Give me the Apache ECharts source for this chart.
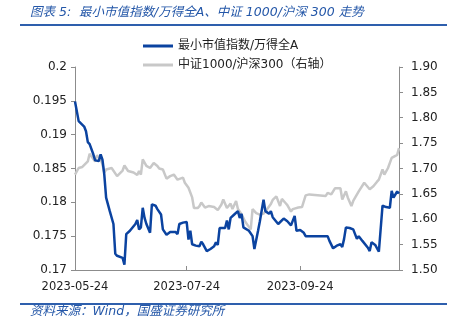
<!DOCTYPE html>
<html>
<head>
<meta charset="utf-8">
<script src="https://cdn.jsdelivr.net/npm/echarts@6/dist/echarts.min.js"></script>
<style>html,body{margin:0;padding:0;background:#fff}#c{width:456px;height:329px}</style>
</head>
<body>
<div id="c"></div>
<script>
var titleText = '图表 5:  最小市值指数/万得全A、中证 1000/沪深 300 走势';
var sourceText = '资料来源：Wind，国盛证券研究所';
var seriesNames = ['最小市值指数/万得全A', '中证1000/沪深300（右轴）'];
var xTickLabels = ['2023-05-24', '2023-07-24', '2023-09-24'];
var xRange = ['2023-05-24', '2023-11-17'];
var leftRange = [0.17, 0.2, 0.005];
var rightRange = [1.5, 1.9, 0.05];

var blueDates = ['2023-05-24','2023-05-26','2023-05-29','2023-05-30','2023-05-31','2023-06-01','2023-06-03','2023-06-04','2023-06-06','2023-06-07','2023-06-08','2023-06-09','2023-06-10','2023-06-12','2023-06-14','2023-06-15','2023-06-16','2023-06-19','2023-06-20','2023-06-21','2023-06-23','2023-06-26','2023-06-27','2023-06-28','2023-06-29','2023-06-30','2023-07-01','2023-07-02','2023-07-04','2023-07-05','2023-07-07','2023-07-08','2023-07-10','2023-07-11','2023-07-13','2023-07-15','2023-07-18','2023-07-19','2023-07-20','2023-07-22','2023-07-24','2023-07-25','2023-07-26','2023-07-27','2023-07-29','2023-07-31','2023-08-01','2023-08-02','2023-08-04','2023-08-06','2023-08-08','2023-08-09','2023-08-10','2023-08-11','2023-08-14','2023-08-15','2023-08-16','2023-08-17','2023-08-19','2023-08-21','2023-08-22','2023-08-23','2023-08-24','2023-08-27','2023-08-29','2023-08-30','2023-09-01','2023-09-02','2023-09-04','2023-09-05','2023-09-07','2023-09-08','2023-09-09','2023-09-12','2023-09-15','2023-09-17','2023-09-19','2023-09-21','2023-09-22','2023-09-24','2023-09-26','2023-09-27','2023-10-09','2023-10-10','2023-10-12','2023-10-14','2023-10-16','2023-10-17','2023-10-18','2023-10-19','2023-10-21','2023-10-23','2023-10-25','2023-10-26','2023-10-28','2023-10-31','2023-11-01','2023-11-02','2023-11-04','2023-11-06','2023-11-07','2023-11-08','2023-11-10','2023-11-12','2023-11-13','2023-11-14','2023-11-16','2023-11-17'];
var blueValues = [0.1949,0.1920,0.1912,0.1905,0.1889,0.1886,0.1871,0.1862,0.1861,0.1871,0.1863,0.1841,0.1807,0.1787,0.1768,0.1724,0.1721,0.1718,0.1708,0.1753,0.1758,0.1768,0.1774,0.1760,0.1763,0.1792,0.1777,0.1768,0.1755,0.1797,0.1795,0.1790,0.1782,0.1760,0.1752,0.1756,0.1756,0.1753,0.1768,0.1770,0.1771,0.1745,0.1758,0.1738,0.1736,0.1735,0.1742,0.1738,0.1728,0.1731,0.1735,0.1741,0.1737,0.1762,0.1762,0.1773,0.1760,0.1777,0.1782,0.1787,0.1777,0.1783,0.1763,0.1758,0.1750,0.1731,0.1758,0.1772,0.1804,0.1787,0.1783,0.1787,0.1778,0.1768,0.1776,0.1772,0.1766,0.1780,0.1758,0.1759,0.1755,0.1750,0.1750,0.1743,0.1732,0.1736,0.1738,0.1734,0.1746,0.1763,0.1762,0.1760,0.1746,0.1750,0.1743,0.1733,0.1728,0.1741,0.1737,0.1727,0.1728,0.1795,0.1793,0.1792,0.1817,0.1807,0.1816,0.1813];

var grayDates = ['2023-05-24','2023-05-26','2023-05-28','2023-05-29','2023-05-31','2023-06-01','2023-06-02','2023-06-04','2023-06-05','2023-06-07','2023-06-08','2023-06-09','2023-06-10','2023-06-13','2023-06-14','2023-06-16','2023-06-17','2023-06-19','2023-06-20','2023-06-22','2023-06-25','2023-06-27','2023-06-28','2023-06-29','2023-06-30','2023-07-02','2023-07-04','2023-07-06','2023-07-08','2023-07-09','2023-07-11','2023-07-13','2023-07-15','2023-07-17','2023-07-19','2023-07-20','2023-07-22','2023-07-23','2023-07-25','2023-07-27','2023-07-28','2023-07-30','2023-07-31','2023-08-01','2023-08-03','2023-08-05','2023-08-08','2023-08-10','2023-08-12','2023-08-13','2023-08-15','2023-08-17','2023-08-18','2023-08-20','2023-08-21','2023-08-23','2023-08-25','2023-08-27','2023-08-28','2023-08-29','2023-08-30','2023-08-31','2023-09-02','2023-09-04','2023-09-06','2023-09-08','2023-09-09','2023-09-11','2023-09-13','2023-09-14','2023-09-16','2023-09-17','2023-09-19','2023-09-20','2023-09-23','2023-09-25','2023-09-27','2023-09-29','2023-10-08','2023-10-09','2023-10-11','2023-10-13','2023-10-16','2023-10-17','2023-10-19','2023-10-20','2023-10-22','2023-10-23','2023-10-26','2023-10-29','2023-10-30','2023-11-01','2023-11-03','2023-11-05','2023-11-06','2023-11-08','2023-11-09','2023-11-11','2023-11-13','2023-11-14','2023-11-16','2023-11-17'];
var grayValues = [1.688,1.701,1.703,1.706,1.714,1.729,1.727,1.714,1.726,1.718,1.708,1.692,1.698,1.701,1.704,1.685,1.685,1.696,1.706,1.695,1.692,1.687,1.695,1.688,1.718,1.705,1.701,1.711,1.705,1.700,1.698,1.680,1.685,1.688,1.678,1.675,1.682,1.672,1.662,1.643,1.622,1.622,1.626,1.633,1.623,1.626,1.624,1.618,1.629,1.639,1.622,1.631,1.620,1.636,1.620,1.610,1.595,1.585,1.580,1.620,1.622,1.612,1.609,1.611,1.620,1.630,1.638,1.645,1.626,1.640,1.632,1.628,1.615,1.620,1.623,1.624,1.647,1.649,1.646,1.652,1.649,1.661,1.661,1.639,1.655,1.643,1.626,1.636,1.655,1.672,1.669,1.659,1.665,1.674,1.678,1.698,1.688,1.701,1.721,1.718,1.727,1.740];

function ts(s) { var p = s.split('-'); return new Date(+p[0], +p[1] - 1, +p[2]).getTime(); }
function pad(n) { return (n < 10 ? '0' : '') + n; }
function fmtDate(v) { var d = new Date(v); return d.getFullYear() + '-' + pad(d.getMonth() + 1) + '-' + pad(d.getDate()); }
function zip(a, b) { return a.map(function (d, i) { return [ts(d), b[i]]; }); }

var BLUE_TXT = '#2457A8';
var BLUE_LINE = '#0B43A0';
var GRAY_LINE = '#C8C8C8';
var latin = '"DejaVu Sans", "Noto Sans CJK SC", sans-serif';
var chart = echarts.init(document.getElementById('c'), null, { renderer: 'canvas' });
var tickTs = xTickLabels.map(ts);

chart.setOption({
  animation: false,
  backgroundColor: '#ffffff',
  title: {
    text: titleText, left: 30, top: 6, padding: 0,
    textStyle: { fontSize: 12.5, fontStyle: 'italic', fontWeight: 'normal', color: BLUE_TXT, fontFamily: latin }
  },
  graphic: [
    { type: 'line', shape: { x1: 20, y1: 25, x2: 447, y2: 25 }, style: { stroke: '#2E5FAD', lineWidth: 2 } },
    { type: 'line', shape: { x1: 20, y1: 304, x2: 447, y2: 304 }, style: { stroke: '#2E5FAD', lineWidth: 2 } },
    { type: 'text', left: 30, top: 305, style: { text: sourceText, fill: BLUE_TXT, font: 'italic 12.5px ' + latin } }
  ],
  legend: {
    data: [
      { name: seriesNames[0], icon: 'rect', itemStyle: { color: BLUE_LINE } },
      { name: seriesNames[1], icon: 'rect', itemStyle: { color: GRAY_LINE } }
    ],
    orient: 'vertical', left: 138, top: 34, itemWidth: 30, itemHeight: 3, itemGap: 5,
    textStyle: { fontSize: 12, color: '#222', fontFamily: latin, lineHeight: 14 }
  },
  grid: { left: 75, right: 57, top: 67, bottom: 59, containLabel: false },
  xAxis: {
    type: 'value', min: ts(xRange[0]), max: ts(xRange[1]),
    axisLine: { lineStyle: { color: '#8c8c8c', width: 1 } },
    axisTick: { show: true, inside: true, length: 4, customValues: tickTs, lineStyle: { color: '#8c8c8c' } },
    axisLabel: { customValues: tickTs, formatter: function (v) { return fmtDate(v); }, fontSize: 11.5, color: '#222', fontFamily: latin, margin: 11, showMinLabel: true, showMaxLabel: true },
    splitLine: { show: false }
  },
  yAxis: [
    {
      type: 'value', min: leftRange[0], max: leftRange[1], interval: leftRange[2], position: 'left',
      axisLine: { show: true, lineStyle: { color: '#8c8c8c' } },
      axisTick: { show: true, length: 4, lineStyle: { color: '#8c8c8c' } },
      axisLabel: { formatter: function (v) { return String(+v.toFixed(3)); }, fontSize: 12, color: '#222', fontFamily: latin, margin: 8 },
      splitLine: { show: false }
    },
    {
      type: 'value', min: rightRange[0], max: rightRange[1], interval: rightRange[2], position: 'right',
      axisLine: { show: true, lineStyle: { color: '#8c8c8c' } },
      axisTick: { show: true, length: 4, lineStyle: { color: '#8c8c8c' } },
      axisLabel: { formatter: function (v) { return v.toFixed(2); }, fontSize: 12, color: '#222', fontFamily: latin, margin: 12 },
      splitLine: { show: false }
    }
  ],
  series: [
    {
      name: seriesNames[1], type: 'line', yAxisIndex: 1, data: zip(grayDates, grayValues),
      symbol: 'none', showSymbol: false, lineStyle: { color: GRAY_LINE, width: 2.5 }, itemStyle: { color: GRAY_LINE }
    },
    {
      name: seriesNames[0], type: 'line', yAxisIndex: 0, data: zip(blueDates, blueValues),
      symbol: 'none', showSymbol: false, lineStyle: { color: BLUE_LINE, width: 2.5 }, itemStyle: { color: BLUE_LINE }
    }
  ]
});
</script>
</body>
</html>
